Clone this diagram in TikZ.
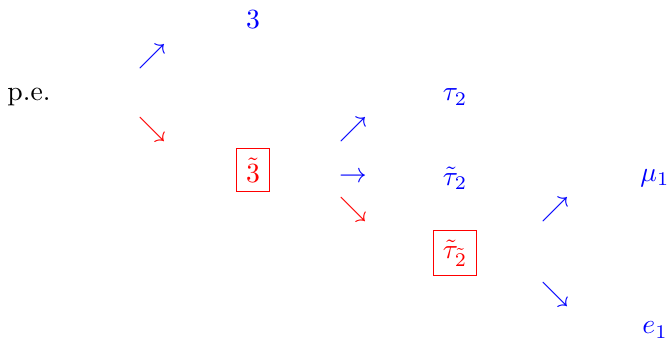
\documentclass[tikz,border=0pt]{standalone}
\usepackage{amsmath}
\usetikzlibrary{positioning}

\begin{document}
\begin{tikzpicture}[x=0.0127cm,y=-0.0127cm,
    decay/.style={text=blue},
    picked/.style={text=red},
    pickedbox/.style={draw=red,text=red}]
  \useasboundingbox (0,0) rectangle (670,342);
  % first decay
  \node (pe) at (29,97) {p.e.};
  \node[decay] (up1) at (152,57) {$\nearrow$};
  \node[picked] (dn1) at (152,130) {$\searrow$};
  \node[decay] (three) at (253,20) {$3$};
  \node[pickedbox] (tthree) at (253,170) {$\tilde{3}$};
  % second decay
  \node[decay] (up2) at (353,130) {$\nearrow$};
  \node[decay] (mid2) at (353,177) {$\rightarrow$};
  \node[picked] (dn2) at (353,210) {$\searrow$};
  \node[decay] (tau) at (455,97) {$\tau_2$};
  \node[decay] (ttau) at (455,178) {$\tilde{\tau}_2$};
  \node[pickedbox] (ttaut) at (455,253) {$\tilde{\tau}_{\tilde{2}}$};
  % third decay
  \node[decay] (up3) at (555,210) {$\nearrow$};
  \node[decay] (dn3) at (555,295) {$\searrow$};
  \node[decay] (mu) at (655,178) {$\mu_1$};
  \node[decay] (el) at (655,330) {$e_1$};
\end{tikzpicture}
\end{document}
